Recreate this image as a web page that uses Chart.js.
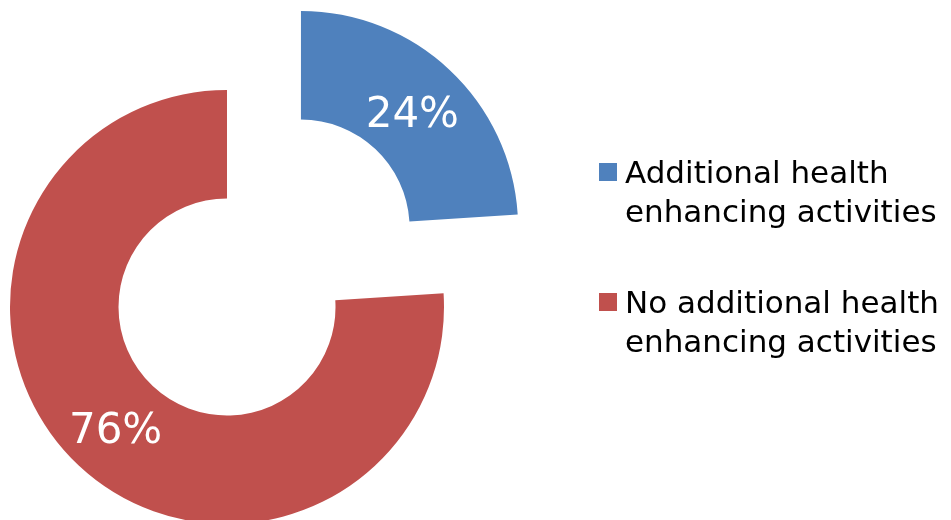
<!DOCTYPE html>
<html>
<head>
<meta charset="utf-8">
<script src="https://cdn.jsdelivr.net/npm/chart.js@4.4.1/dist/chart.umd.min.js"></script>
<style>
    body { margin: 0; background: #fff; }
    .wrap { position: relative; width: 951px; height: 520px; overflow: hidden; }
    #chart { position: absolute; left: 0; top: 0; }
    .legend { position: absolute; left: 599px; top: 153px; font-family: "DejaVu Sans", Verdana, sans-serif; font-size: 31px; line-height: 39px; color: #000; }
    .legend-item { position: relative; padding-left: 26px; margin-bottom: 52px; white-space: nowrap; }
    .legend-box { position: absolute; left: 0; top: 10px; width: 18px; height: 18px; }
</style>
</head>
<body>
<div class="wrap">
    <canvas id="chart" width="951" height="520"></canvas>
    <div class="legend" id="legend"></div>
</div>
<script>
const categories = [
    ['Additional health', 'enhancing activities'],
    ['No additional health', 'enhancing activities']
];
const shares = [24, 76];
const colors = ['#4f81bd', '#c0504d'];
const explode = [432, 0];

// white percentage labels in the middle of each ring segment
const sliceLabels = {
    id: 'sliceLabels',
    afterDatasetsDraw(chart) {
        const ctx = chart.ctx;
        const meta = chart.getDatasetMeta(0);
        ctx.save();
        ctx.fillStyle = '#fff';
        ctx.font = '42px "DejaVu Sans", Verdana, sans-serif';
        ctx.textAlign = 'center';
        ctx.textBaseline = 'middle';
        meta.data.forEach((arc, i) => {
            const mid = (arc.startAngle + arc.endAngle) / 2;
            const shift = (arc.options.offset || 0) / 4;
            const r = (arc.innerRadius + arc.outerRadius) / 2 + shift;
            ctx.fillText(shares[i] + '%', arc.x + Math.cos(mid) * r, arc.y + Math.sin(mid) * r + 6);
        });
        ctx.restore();
    }
};

const ctx = document.getElementById('chart').getContext('2d');
new Chart(ctx, {
    type: 'doughnut',
    data: {
        labels: categories.map(c => c.join(' ')),
        datasets: [{
            data: shares,
            backgroundColor: colors,
            borderWidth: 0,
            offset: explode,
            clip: false
        }]
    },
    options: {
        responsive: false,
        animation: false,
        cutout: '50%',
        radius: 217,
        layout: {
            padding: {left: 0, right: 497, top: 94, bottom: 0}
        },
        plugins: {
            legend: {display: false},
            tooltip: {enabled: false}
        }
    },
    plugins: [sliceLabels]
});

const legend = document.getElementById('legend');
categories.forEach((lines, i) => {
    const item = document.createElement('div');
    item.className = 'legend-item';
    const box = document.createElement('span');
    box.className = 'legend-box';
    box.style.background = colors[i];
    item.appendChild(box);
    lines.forEach((line, j) => {
        if (j > 0) item.appendChild(document.createElement('br'));
        item.appendChild(document.createTextNode(line));
    });
    legend.appendChild(item);
});
</script>
</body>
</html>
